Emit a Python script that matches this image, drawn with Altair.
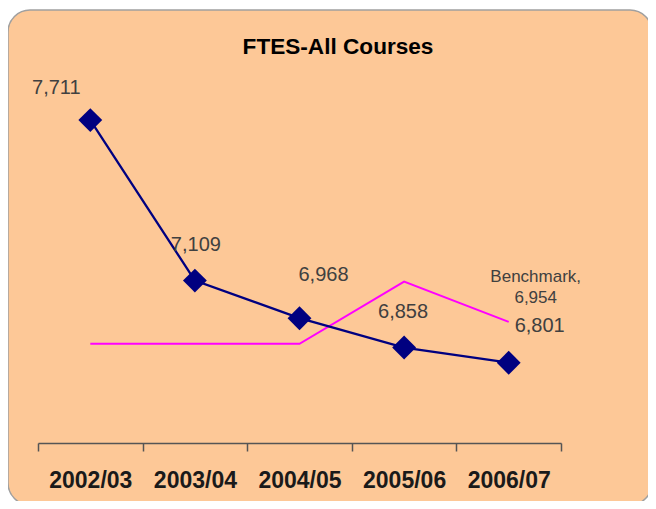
import altair as alt
import pandas as pd

years = ["2002/03", "2003/04", "2004/05", "2005/06", "2006/07"]
ftes = [7711, 7109, 6968, 6858, 6801]
benchmark = [6872, 6872, 6872, 7105, 6954]
title_text = ["FTES-All Courses"]

df = pd.DataFrame({"year": years, "ftes": ftes, "bench": benchmark})

x = alt.X("year:N", sort=years, title=None,
          scale=alt.Scale(paddingInner=0, paddingOuter=0),
          axis=alt.Axis(tickBand="extent", labelAngle=0, labelFontSize=23,
                        labelFontWeight="bold", labelFont="Liberation Sans",
                        labelColor="#1a1a1a", labelPadding=18, labelBaseline="top",
                        domainColor="#555555", tickColor="#555555",
                        tickSize=8, domainWidth=1.5, tickWidth=1.5, grid=False,
                        zindex=1))
yscale = alt.Scale(domain=[6500, 8000])
y = alt.Y("ftes:Q", scale=yscale, axis=None)

bg = alt.Chart(pd.DataFrame({"a": [0]})).mark_rect(
    fill="#FDC897", stroke="#a0a0a0", strokeWidth=1.5, cornerRadius=22
).encode(x=alt.value(-30), x2=alt.value(614), y=alt.value(-33), y2=alt.value(462))

title = alt.Chart(pd.DataFrame({"t": title_text})).mark_text(
    fontSize=22.6, fontWeight="bold", font="Liberation Sans", color="#000000",
    align="center", baseline="middle"
).encode(x=alt.value(300), y=alt.value(4), text="t:N")

base = alt.Chart(df)

navy_line = base.mark_line(color="#000080", strokeWidth=2.3).encode(x=x, y=y)
navy_pts = base.mark_point(shape="diamond", filled=True, color="#000080",
                           size=570, opacity=1).encode(x=x, y=y)
bench_line = base.mark_line(color="#FF00FF", strokeWidth=2).encode(
    x=x, y=alt.Y("bench:Q", scale=yscale, axis=None))

offsets = {"2002/03": (-34, -32), "2003/04": (1, -36), "2004/05": (24, -43),
           "2005/06": (-1, -36), "2006/07": (31, -37)}
labels = []
for yr, (dx, dy) in offsets.items():
    labels.append(
        base.transform_filter(alt.datum.year == yr).mark_text(
            dx=dx, dy=dy, fontSize=20, font="Liberation Sans", color="#404040",
            baseline="middle"
        ).encode(x=x, y=y, text=alt.Text("ftes:Q", format=","))
    )

bench_label = base.transform_filter(alt.datum.year == "2006/07").transform_calculate(
    lbl="['Benchmark,', format(datum.bench, ',')]"
).mark_text(dx=27, dy=-45, fontSize=17, font="Liberation Sans", color="#404040",
            lineHeight=21, baseline="middle").encode(
    x=x, y=alt.Y("bench:Q", scale=yscale, axis=None), text="lbl:N")

chart = alt.layer(bg, title, bench_line, navy_line, navy_pts, *labels, bench_label).properties(
    width=523, height=400,
    autosize=alt.AutoSizeParams(type="none"),
    padding={"left": 30, "top": 35, "right": 87, "bottom": 58},
    background="white",
).configure_view(stroke=None)

chart.save("out.html", embed_options={"renderer": "svg", "actions": False})
